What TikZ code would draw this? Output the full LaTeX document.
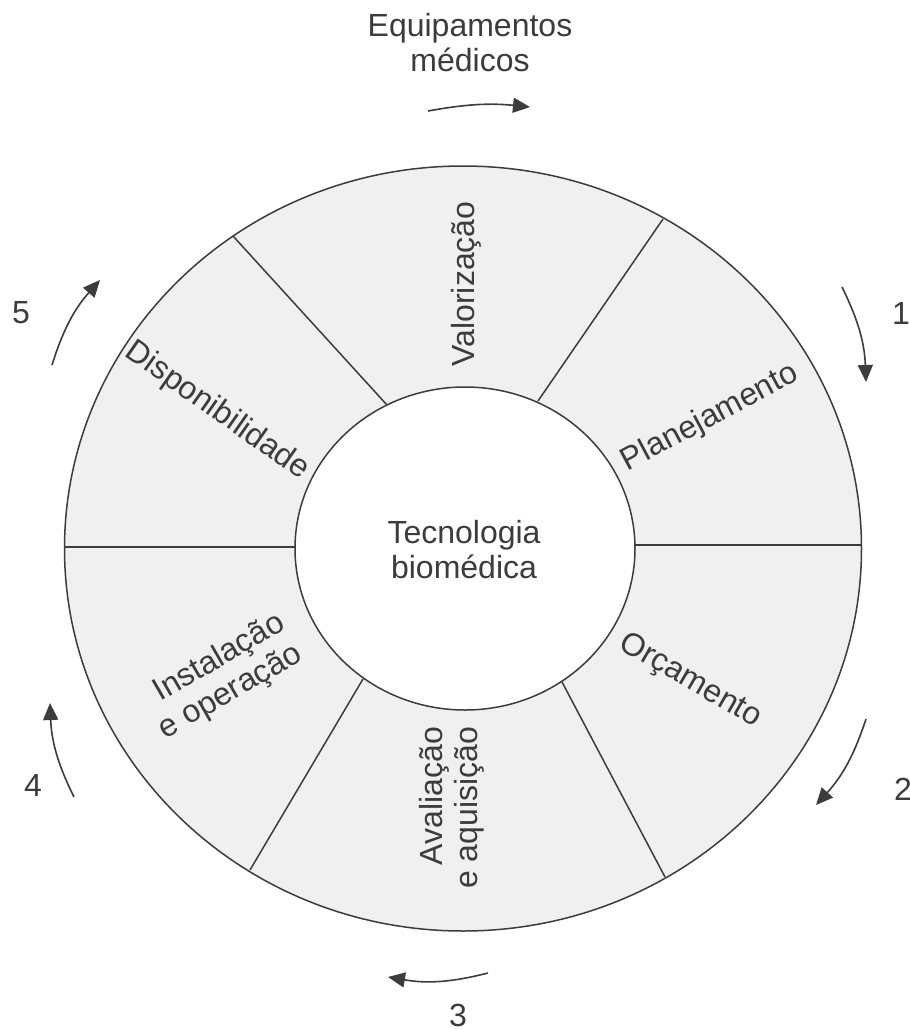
\documentclass[tikz,border=0pt]{standalone}
\usepackage{fontspec}
\setmainfont{Liberation Sans}
\usetikzlibrary{arrows.meta}
\definecolor{ink}{HTML}{3C3C3C}
\definecolor{ringfill}{HTML}{F0F0F0}
\begin{document}
\begin{tikzpicture}[x=1pt,y=-1pt,
  lbl/.style={font=\fontsize{32}{35}\selectfont, text=ink, inner sep=0pt},
  divider/.style={draw=ink, line width=1.5pt},
  rim/.style={draw=ink, line width=1.5pt},
  cyclearrow/.style={draw=ink, line width=1.6pt, -{Triangle[length=17pt,width=15pt]}},
]
\useasboundingbox (0,0) rectangle (910,1029);
\fill[white] (0,0) rectangle (910,1029);

% ring and hub
\draw[rim, fill=ringfill] (463,548.5) ellipse [x radius=398.5pt, y radius=382.5pt];
\draw[rim, fill=white] (465,548.5) ellipse [x radius=170pt, y radius=161.5pt];

% sector boundaries (inner end, outer end)
\coordinate (lI) at (295,547);   \coordinate (lO) at (64.5,547);
\coordinate (rI) at (635,545);   \coordinate (rO) at (861.5,545);
\coordinate (ulI) at (387,405);  \coordinate (ulO) at (233,236);
\coordinate (urI) at (538,401);  \coordinate (urO) at (663,219);
\coordinate (lrI) at (562,682);  \coordinate (lrO) at (665,877);
\coordinate (llI) at (363,679);  \coordinate (llO) at (250,870);
\foreach \s in {l,r,ul,ur,lr,ll} \draw[divider] (\s I) -- (\s O);

% labels
\node[lbl, align=center] (equip) at (470,43) {Equipamentos\\médicos};
\node[lbl, align=center] (core) at (464,550) {Tecnologia\\biomédica};
\node[lbl, rotate=90] (valor) at (466,284) {Valorização};
\node[lbl, rotate=28] (plan) at (710,418) {Planejamento};
\node[lbl, rotate=-30] (orc) at (690,681) {Orçamento};
\node[lbl, rotate=90, align=right] (aval) at (452,808) {Avaliação\\e aquisição};
\node[lbl, rotate=30, align=right] (inst) at (222,677) {Instalação\\e operação};
\node[lbl, rotate=-35] (disp) at (217,411) {Disponibilidade};

% step numbers
\node[lbl] (n1) at (901,313) {1};
\node[lbl] (n2) at (903,789) {2};
\node[lbl] (n3) at (458,1015) {3};
\node[lbl] (n4) at (33,785) {4};
\node[lbl] (n5) at (21,313) {5};

% clockwise arrows
\coordinate (a0s) at (428,111); \coordinate (a0e) at (530,107);
\coordinate (a1s) at (842,287); \coordinate (a1e) at (866,382);
\coordinate (a2s) at (866,719); \coordinate (a2e) at (816,805);
\coordinate (a3s) at (488,973); \coordinate (a3e) at (388,977);
\coordinate (a4s) at (74,797);  \coordinate (a4e) at (50,703);
\coordinate (a5s) at (52,365);  \coordinate (a5e) at (100,280);
\draw[cyclearrow] (a0s) to[bend left=8] (a0e);
\foreach \k in {1,...,5} \draw[cyclearrow] (a\k s) to[bend left=12] (a\k e);
\end{tikzpicture}
\end{document}
